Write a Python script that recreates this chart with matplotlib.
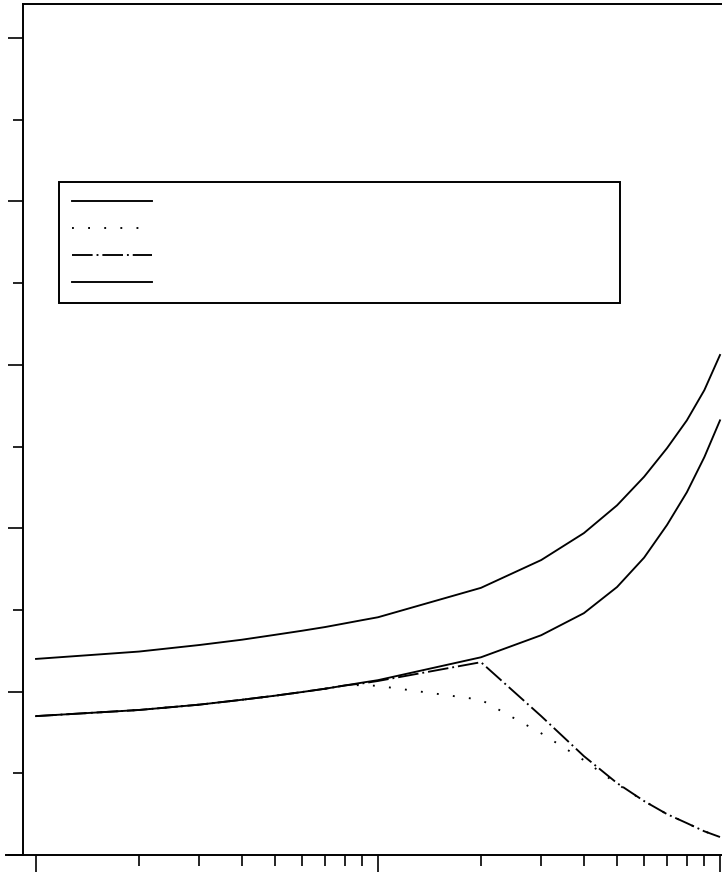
import matplotlib
matplotlib.use("Agg")
import matplotlib.pyplot as plt
from matplotlib.lines import Line2D
from matplotlib.ticker import FixedLocator, NullFormatter

# x positions (log axis, one point per decade step)
x = [1, 2, 3, 4, 5, 6, 7, 8, 9, 10, 20, 30, 40, 50, 60, 70, 80, 90, 100]

# curves
lower = [1.70, 1.775, 1.84, 1.90, 1.95, 1.995, 2.035, 2.075, 2.11, 2.14,
         2.42, 2.69, 2.96, 3.28, 3.64, 4.04, 4.44, 4.87, 5.32]
dotted = [1.70, 1.775, 1.84, 1.90, 1.95, 1.995, 2.035, 2.075, 2.08, 2.07,
          1.90, 1.49, 1.16, 0.87, 0.66, 0.50, 0.39, 0.29, 0.22]
dashdot = [1.70, 1.775, 1.84, 1.90, 1.95, 1.995, 2.035, 2.075, 2.10, 2.13,
           2.36, 1.70, 1.21, 0.88, 0.66, 0.50, 0.39, 0.29, 0.22]
upper = [2.40, 2.49, 2.57, 2.635, 2.695, 2.745, 2.79, 2.835, 2.875, 2.91,
         3.27, 3.61, 3.94, 4.28, 4.63, 4.98, 5.32, 5.69, 6.12]

y_major = [0, 2, 4, 6, 8, 10]
y_minor = [1, 3, 5, 7, 9]
x_major = [1, 10, 100]
x_minor = [2, 3, 4, 5, 6, 7, 8, 9, 20, 30, 40, 50, 60, 70, 80, 90]

W, H = 722, 872
fig = plt.figure(figsize=(W / 100, H / 100), dpi=100)
ax = fig.add_axes([23 / W, 17 / H, 699 / W, 851 / H])

lw = 1.35
l1, = ax.plot(x, lower, color="black", lw=lw, solid_joinstyle="round")
l2, = ax.plot(x, dotted, color="black", lw=lw, linestyle=(0, (1, 7.6)))
l3, = ax.plot(x, dashdot, color="black", lw=lw, linestyle=(0, (11, 2.1, 1, 2.1)))
l4, = ax.plot(x, upper, color="black", lw=lw, solid_joinstyle="round")

ax.set_xscale("log")
ax.set_xlim(10 ** (-13 / 342), 10 ** (2 + 2 / 342))
ax.set_ylim(0, 851 / 81.7)

ax.xaxis.set_major_locator(FixedLocator(x_major))
ax.xaxis.set_minor_locator(FixedLocator(x_minor))
ax.yaxis.set_major_locator(FixedLocator(y_major))
ax.yaxis.set_minor_locator(FixedLocator(y_minor))
ax.xaxis.set_major_formatter(NullFormatter())
ax.xaxis.set_minor_formatter(NullFormatter())
ax.yaxis.set_major_formatter(NullFormatter())
ax.yaxis.set_minor_formatter(NullFormatter())

ax.tick_params(which="both", direction="out", width=1.2, color="black")
ax.tick_params(axis="x", which="major", length=13)
ax.tick_params(axis="x", which="minor", length=8)
ax.tick_params(axis="y", which="major", length=10.8)
ax.tick_params(axis="y", which="minor", length=7.2)

ax.spines["right"].set_visible(False)
for s in ["left", "top", "bottom"]:
    ax.spines[s].set_linewidth(1.4)
    ax.spines[s].set_color("black")

# bottom axis line runs a bit left of the y axis
fig.add_artist(Line2D([6 / W, 23 / W], [17 / H, 17 / H], color="black", lw=1.4,
                      transform=fig.transFigure))

leg = ax.legend([l1, l2, l3, l4], [" "] * 4, loc="upper left",
                bbox_to_anchor=(36 / 699, 552 / 851, 561 / 699, 121 / 851),
                mode="expand", borderaxespad=0, fontsize=10, handlelength=5.75,
                labelspacing=0.92, borderpad=0.95, handletextpad=0.5,
                fancybox=False, framealpha=1, edgecolor="black")
leg.get_frame().set_linewidth(1.4)

fig.savefig("out.png", dpi=100)
